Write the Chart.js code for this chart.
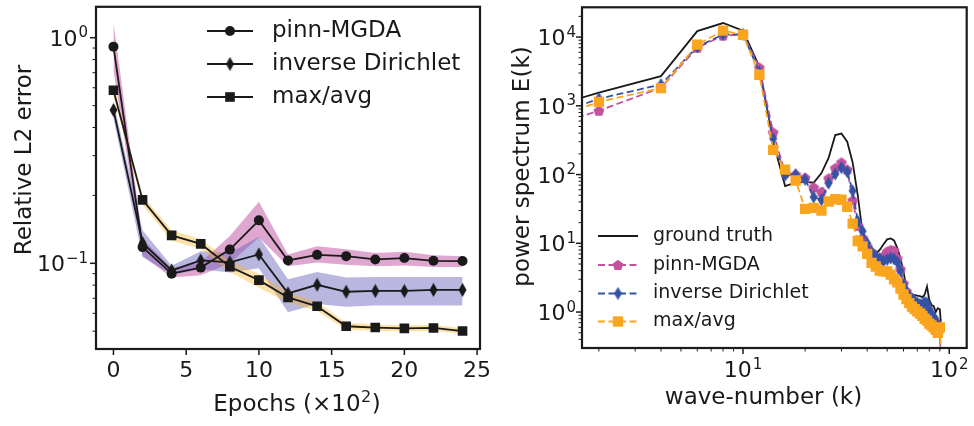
<!DOCTYPE html>
<html><head><meta charset="utf-8">
<script src="https://cdn.jsdelivr.net/npm/chart.js@4.4.1/dist/chart.umd.min.js"></script>
<style>
html,body{margin:0;padding:0;background:#fff;}
#wrap{position:relative;width:974px;height:426px;overflow:hidden;background:#fff;}
.pane{position:absolute;top:0;height:426px;}
</style></head><body>
<div id="wrap">
  <div class="pane" style="left:0;width:490px;"><canvas id="left"></canvas></div>
  <div class="pane" style="left:490px;width:484px;"><canvas id="right"></canvas></div>
</div>
<script>
// ---------- Left panel data (Relative L2 error vs epochs) ----------
const epochs = [0, 2, 4, 6, 8, 10, 12, 14, 16, 18, 20, 22, 24];
const pinnMGDA      = [0.913, 0.118, 0.090, 0.0957, 0.115, 0.155, 0.103, 0.109, 0.1076, 0.104, 0.1055, 0.1026, 0.1023];
const pinnMGDAHi    = [1.17, 0.128, 0.095, 0.101, 0.132, 0.1875, 0.1095, 0.119, 0.1154, 0.1112, 0.1125, 0.1087, 0.1075];
const pinnMGDALo    = [0.72, 0.108, 0.0865, 0.0885, 0.100, 0.130, 0.097, 0.1007, 0.0986, 0.097, 0.0977, 0.0962, 0.0962];
const invDirichlet   = [0.478, 0.123, 0.093, 0.103, 0.101, 0.1095, 0.0736, 0.0803, 0.0748, 0.0754, 0.0754, 0.0762, 0.0762];
const invDirichletHi = [0.52, 0.140, 0.0975, 0.113, 0.111, 0.131, 0.085, 0.0916, 0.0866, 0.087, 0.087, 0.087, 0.087];
const invDirichletLo = [0.44, 0.1066, 0.0893, 0.094, 0.091, 0.095, 0.0607, 0.066, 0.0642, 0.065, 0.065, 0.065, 0.065];
const maxAvg   = [0.585, 0.191, 0.133, 0.122, 0.0966, 0.0842, 0.0706, 0.0645, 0.0526, 0.0519, 0.0515, 0.0517, 0.0501];
const maxAvgHi = [0.62, 0.200, 0.140, 0.128, 0.102, 0.090, 0.074, 0.0675, 0.0545, 0.0535, 0.053, 0.0533, 0.0515];
const maxAvgLo = [0.55, 0.182, 0.126, 0.116, 0.0915, 0.078, 0.067, 0.0615, 0.0508, 0.0503, 0.050, 0.0501, 0.0487];
const epochTicks = [0, 5, 10, 15, 20, 25];
const errorDecades = [0.1, 1];

// ---------- Right panel data (power spectrum vs wave-number) ----------
const waveNumber = [1, 2, 4, 6, 8, 10, 12, 14, 16, 18, 20, 22, 24, 26, 28, 30, 32, 34, 36, 38, 40, 42, 44, 46, 48, 50,
  52, 54, 56, 58, 60, 62, 64, 66, 68, 70, 72, 74, 76, 78, 80, 82, 84, 86, 88, 90, 91];
const groundTruth = [850, 1550, 2700, 12200, 16000, 12400, 3700, 300, 68, 76, 78, 76, 105, 175, 375, 395, 300, 150, 50, 14,
  9.5, 8, 7, 8, 9.7, 11.4, 11.8, 11, 8.5, 6, 3.9, 2.2, 1.85, 1.8, 1.77, 1.73, 1.7, 1.65, 1.8, 2.35, 1.5, 1.27, 1.22, 1.0, 1.14, 1.1, 0.72];
const specPinn = [436, 849, 1830, 7000, 10500, 10900, 3600, 410, 105, 100, 90, 65, 56, 88, 124, 150, 118, 42, 18, 12,
  9, 7.5, 6.3, 5.8, 6.5, 7.6, 8.0, 7.8, 6, 4.2, 2.6, 2.0, 1.7, 1.5, 1.35, 1.25, 1.15, 1.05, 1.1, 1.15, 0.95, 0.85, 0.8, 0.7, 0.6, 0.58, 0.2];
const specInv = [600, 1270, 2040, 7200, 10900, 10900, 3100, 333, 98, 100, 85, 47, 43, 75, 102, 126, 110, 58, 21, 15,
  10, 7.5, 6.5, 6, 5.5, 5.8, 6.1, 5.9, 5.3, 4.0, 2.5, 2.0, 1.7, 1.55, 1.45, 1.35, 1.3, 1.3, 1.4, 1.35, 1.1, 0.95, 0.85, 0.75, 0.65, 0.6, 0.2];
const specMax = [543, 1140, 1810, 7760, 12400, 10800, 2830, 228, 118, 82, 31.6, 32.7, 30, 40.6, 44, 43, 34, 19.3, 10.8, 9,
  7, 5.2, 4.6, 4.0, 3.9, 3.9, 3.5, 3.0, 2.7, 2.2, 1.8, 1.55, 1.35, 1.2, 1.1, 1.02, 0.95, 0.88, 0.8, 0.75, 0.68, 0.64, 0.6, 0.55, 0.5, 0.6, 0.2];
const waveDecades = [10, 100];
const spectrumDecades = [1, 10, 100, 1000, 10000];

// ---------- styling helpers ----------
const FONT = "'DejaVu Sans', 'Liberation Sans', sans-serif";
const INK = '#1a1a1a';
const PINK = '#c0529f', BLUE = '#3553a4', ORANGE = '#f9a51e';
Chart.defaults.font.family = FONT;
Chart.defaults.color = INK;

function markerCanvas(w, h, color, path) {
  const c = document.createElement('canvas');
  c.width = w; c.height = h;
  const g = c.getContext('2d');
  g.fillStyle = color;
  g.beginPath(); path(g, w, h); g.closePath(); g.fill();
  return c;
}
function thinDiamond(g, w, h) { g.moveTo(w/2, 0.5); g.lineTo(w - 0.5, h/2); g.lineTo(w/2, h - 0.5); g.lineTo(0.5, h/2); }
function pentagon(g, w, h) {
  const r = w/2 - 0.3, cx = w/2, cy = h/2 + 0.5;
  for (let i = 0; i < 5; i++) {
    const a = -Math.PI/2 + i * 2*Math.PI/5;
    const px = cx + r*Math.cos(a), py = cy + r*Math.sin(a);
    if (i === 0) g.moveTo(px, py); else g.lineTo(px, py);
  }
}
const blackDiamond = markerCanvas(9, 15, INK, thinDiamond);
const blueDiamond = markerCanvas(9, 14, BLUE, thinDiamond);
const pinkPentagon = markerCanvas(12, 12, PINK, pentagon);

function isDecade(list, v) { return list.some(d => Math.abs(d - v) / d < 1e-6); }
function logTickList(decades, min, max) {
  const out = [];
  const e0 = Math.floor(Math.log10(min)), e1 = Math.ceil(Math.log10(max));
  for (let e = e0; e <= e1; e++) for (let m = 1; m <= 9; m++) {
    const v = parseFloat((m * Math.pow(10, e)).toPrecision(6));
    if (v >= min && v <= max) out.push({value: v, isMajor: isDecade(decades, v)});
  }
  return out;
}
function fixBox(size, horizontal) {
  return function(scale) {
    if (horizontal) scale.height = size; else scale.width = size;
    scale.paddingLeft = 0; scale.paddingRight = 0; scale.paddingTop = 0; scale.paddingBottom = 0;
  };
}
// text "base" followed by a raised smaller exponent, like mathtext 10^{n}
function drawPow(ctx, base, exp, x, baseline, align, size) {
  const es = Math.round(size * 0.7);
  ctx.font = size + 'px ' + FONT;
  const wb = ctx.measureText(base).width;
  ctx.font = es + 'px ' + FONT;
  const we = ctx.measureText(exp).width;
  const total = wb + we + 1;
  let x0 = align === 'right' ? x - total : (align === 'center' ? x - total / 2 : x);
  ctx.textAlign = 'left'; ctx.textBaseline = 'alphabetic';
  ctx.font = size + 'px ' + FONT;
  ctx.fillText(base, x0, baseline);
  ctx.font = es + 'px ' + FONT;
  ctx.fillText(exp, x0 + wb + 1, baseline - size * 0.38);
  return total;
}

// frame, tick marks, log tick labels, axis titles and legend
const decorPlugin = {
  id: 'decor',
  afterDraw(chart, args, o) {
    const {ctx, chartArea: a} = chart;
    ctx.save();
    ctx.strokeStyle = INK; ctx.fillStyle = INK;
    const TS = 22;
    for (const id of ['x', 'y']) {
      const s = chart.scales[id];
      for (const t of s.ticks) {
        const p = s.getPixelForValue(t.value);
        const len = t.isMajor ? 6 : 3.5;
        ctx.lineWidth = t.isMajor ? 1.5 : 1;
        ctx.beginPath();
        if (id === 'x') { ctx.moveTo(p, a.bottom); ctx.lineTo(p, a.bottom + len); }
        else { ctx.moveTo(a.left, p); ctx.lineTo(a.left - len, p); }
        ctx.stroke();
        if (t.isMajor && s.type === 'logarithmic') {
          const e = String(Math.round(Math.log10(t.value))).replace('-', '\u2212');
          if (id === 'x') drawPow(ctx, '10', e, p, o.xLabelBaseline, 'center', TS);
          else drawPow(ctx, '10', e, a.left - o.yLabelGap, p + 0.729 * TS / 2, 'right', TS);
        }
      }
    }
    ctx.lineWidth = 2.2;
    ctx.strokeRect(a.left, a.top, a.right - a.left, a.bottom - a.top);
    // axis titles
    ctx.fillStyle = INK;
    const TT = 23;
    if (o.xTitleExp) {
      ctx.font = TT + 'px ' + FONT;
      const w1 = ctx.measureText(o.xTitle).width;
      ctx.font = Math.round(TT * 0.7) + 'px ' + FONT;
      const w2 = ctx.measureText(o.xTitleExp).width;
      ctx.font = TT + 'px ' + FONT;
      const w3 = ctx.measureText(o.xTitleEnd).width;
      let x0 = o.xTitlePos[0] - (w1 + w2 + w3 + 1) / 2;
      const bl = o.xTitlePos[1] + 0.297 * TT;
      ctx.textAlign = 'left'; ctx.textBaseline = 'alphabetic';
      ctx.fillText(o.xTitle, x0, bl);
      ctx.font = Math.round(TT * 0.7) + 'px ' + FONT;
      ctx.fillText(o.xTitleExp, x0 + w1 + 0.5, bl - TT * 0.4);
      ctx.font = TT + 'px ' + FONT;
      ctx.fillText(o.xTitleEnd, x0 + w1 + w2 + 1, bl);
    } else {
      ctx.font = TT + 'px ' + FONT;
      ctx.textAlign = 'center'; ctx.textBaseline = 'middle';
      ctx.fillText(o.xTitle, o.xTitlePos[0], o.xTitlePos[1]);
    }
    ctx.font = TT + 'px ' + FONT;
    ctx.textAlign = 'center'; ctx.textBaseline = 'middle';
    ctx.save();
    ctx.translate(o.yTitlePos[0], o.yTitlePos[1]);
    ctx.rotate(-Math.PI / 2);
    ctx.fillText(o.yTitle, 0, 0);
    ctx.restore();
    // legend
    const L = o.legend;
    ctx.font = L.fontSize + 'px ' + FONT;
    ctx.textAlign = 'left'; ctx.textBaseline = 'middle';
    L.items.forEach((idx, i) => {
      const y = L.rows[i];
      const ds = chart.data.datasets[idx];
      ctx.strokeStyle = ds.borderColor; ctx.lineWidth = ds.borderWidth;
      ctx.setLineDash(ds.borderDash || []);
      ctx.beginPath(); ctx.moveTo(L.x0, y); ctx.lineTo(L.x1, y); ctx.stroke();
      ctx.setLineDash([]);
      const ps = ds.pointStyle, r = ds.pointRadius, cx = (L.x0 + L.x1) / 2;
      ctx.fillStyle = ds.pointBackgroundColor;
      if (ps instanceof HTMLCanvasElement) ctx.drawImage(ps, cx - ps.width/2, y - ps.height/2);
      else if (ps === 'rect') { const h = r * Math.SQRT1_2; ctx.fillRect(cx - h, y - h, 2*h, 2*h); }
      else if (ps === 'circle' && r > 0) { ctx.beginPath(); ctx.arc(cx, y, r, 0, 2*Math.PI); ctx.fill(); }
      ctx.fillStyle = INK;
      ctx.fillText(ds.label, L.textX, y);
    });
    ctx.restore();
  }
};

// ---------- Left chart ----------
const xy = (xs, ys) => xs.map((x, i) => ({x: x, y: ys[i]}));
function mainLine(label, ys, style, radius) {
  return {label, data: xy(epochs, ys), borderColor: INK, borderWidth: 1.8, pointStyle: style, pointRadius: radius,
    pointBackgroundColor: INK, pointBorderColor: INK, pointBorderWidth: 0, fill: false, order: 0};
}
function band(ys, color, fill, order) {
  return {label: '', data: xy(epochs, ys), borderWidth: 0, borderColor: 'rgba(0,0,0,0)', pointRadius: 0,
    backgroundColor: color, fill: fill, order: order};
}
new Chart(document.getElementById('left'), {
  type: 'line',
  data: {datasets: [
    mainLine('pinn-MGDA', pinnMGDA, 'circle', 5),
    mainLine('inverse Dirichlet', invDirichlet, blackDiamond, 5),
    mainLine('max/avg', maxAvg, 'rect', 6.8),
    band(pinnMGDAHi, 'rgba(192,80,160,0.5)', '+1', 10),
    band(pinnMGDALo, 'rgba(0,0,0,0)', false, 10),
    band(invDirichletHi, 'rgba(100,95,185,0.45)', '+1', 9),
    band(invDirichletLo, 'rgba(0,0,0,0)', false, 9),
    band(maxAvgHi, 'rgba(248,180,40,0.4)', '+1', 8),
    band(maxAvgLo, 'rgba(0,0,0,0)', false, 8)
  ]},
  options: {
    responsive: true, maintainAspectRatio: false, animation: false,
    layout: {padding: {left: 0, top: 3, right: 10, bottom: 0}},
    plugins: {legend: {display: false}, tooltip: {enabled: false},
      decor: {xTitle: 'Epochs (\u00d710', xTitleExp: '2', xTitleEnd: ')', xTitlePos: [297, 404],
        yTitle: 'Relative L2 error', yTitlePos: [25, 160], yLabelGap: 8, xLabelBaseline: 379,
        legend: {fontSize: 23, x0: 207, x1: 253, textX: 272, rows: [31, 64, 97], items: [0, 1, 2]}}},
    scales: {
      x: {type: 'linear', min: -1.2, max: 25.2, grid: {display: false, drawTicks: false}, border: {display: false},
        afterBuildTicks: s => { s.ticks = epochTicks.map(v => ({value: v, isMajor: true})); },
        afterFit: fixBox(77, true),
        ticks: {autoSkip: false, maxRotation: 0, padding: 9, font: {size: 22}, color: INK, callback: v => String(v)}},
      y: {type: 'logarithmic', min: 0.0417, max: 1.371, grid: {display: false, drawTicks: false}, border: {display: false},
        afterBuildTicks: s => { s.ticks = logTickList(errorDecades, 0.0417, 1.371); },
        afterFit: fixBox(96, false),
        ticks: {display: false, autoSkip: false}}
    }
  },
  plugins: [decorPlugin]
});

// ---------- Right chart ----------
function specLine(label, ys, color, dash, style, radius, order) {
  return {label, data: xy(waveNumber, ys), borderColor: color, borderWidth: 1.8, borderDash: dash,
    pointStyle: style, pointRadius: radius, pointBackgroundColor: color, pointBorderColor: color,
    pointBorderWidth: 0, fill: false, order: order};
}
new Chart(document.getElementById('right'), {
  type: 'line',
  data: {datasets: [
    specLine('ground truth', groundTruth, INK, [], 'circle', 0, 3),
    specLine('pinn-MGDA', specPinn, PINK, [7, 3.5], pinkPentagon, 5, 2),
    specLine('inverse Dirichlet', specInv, BLUE, [7, 3.5], blueDiamond, 5, 1),
    specLine('max/avg', specMax, ORANGE, [7, 3.5], 'rect', 7.3, 0)
  ]},
  options: {
    responsive: true, maintainAspectRatio: false, animation: false,
    layout: {padding: {left: 0, top: 3, right: 4, bottom: 0}},
    plugins: {legend: {display: false}, tooltip: {enabled: false},
      decor: {xTitle: 'wave-number (k)', xTitlePos: [273.5, 398], yTitle: 'power spectrum E(k)', yTitlePos: [33, 166.5],
        yLabelGap: 6, xLabelBaseline: 377,
        legend: {fontSize: 19, x0: 108, x1: 148, textX: 163, rows: [236, 265, 293.5, 321.5], items: [0, 1, 2, 3]}}},
    scales: {
      x: {type: 'logarithmic', min: 1.656, max: 121.5, grid: {display: false, drawTicks: false}, border: {display: false},
        afterBuildTicks: s => { s.ticks = logTickList(waveDecades, 1.656, 121.5); },
        afterFit: fixBox(78, true),
        ticks: {display: false, autoSkip: false}},
      y: {type: 'logarithmic', min: 0.319, max: 27100, grid: {display: false, drawTicks: false}, border: {display: false},
        afterBuildTicks: s => { s.ticks = logTickList(spectrumDecades, 0.319, 27100); },
        afterFit: fixBox(92, false),
        ticks: {display: false, autoSkip: false}}
    }
  },
  plugins: [decorPlugin]
});
</script>
</body></html>
